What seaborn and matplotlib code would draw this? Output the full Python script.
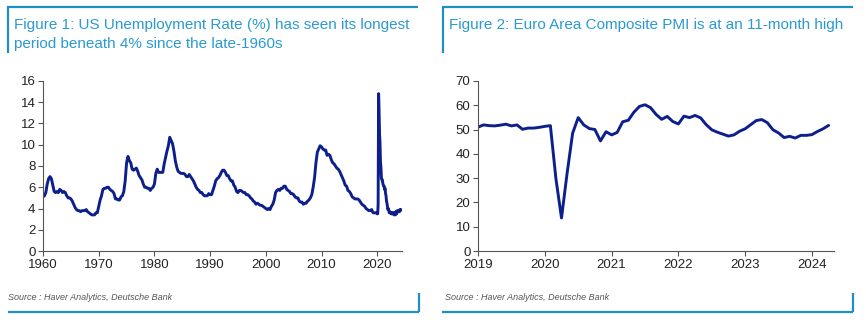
import numpy as np
import pandas as pd
import matplotlib
matplotlib.use("Agg")
import matplotlib.pyplot as plt
from matplotlib.lines import Line2D
import seaborn as sns

# ---------------- Data ----------------
# US unemployment rate (%), quarterly 1960Q1-2019Q4
us_quarterly_1960_2019 = [
    5.1, 5.2, 5.5, 6.3,   6.8, 7.0, 6.8, 6.2,   5.6, 5.5, 5.6, 5.5,   5.8, 5.7, 5.5, 5.6,
    5.5, 5.2, 5.0, 5.0,   4.9, 4.7, 4.4, 4.1,   3.9, 3.8, 3.8, 3.7,   3.8, 3.8, 3.8, 3.9,
    3.7, 3.6, 3.5, 3.4,   3.4, 3.4, 3.6, 3.6,   4.2, 4.8, 5.2, 5.8,   5.9, 5.9, 6.0, 6.0,
    5.8, 5.7, 5.6, 5.4,   4.9, 4.9, 4.8, 4.8,   5.1, 5.2, 5.6, 6.6,   8.3, 8.9, 8.5, 8.3,
    7.7, 7.6, 7.7, 7.8,   7.5, 7.1, 6.9, 6.7,   6.3, 6.0, 6.0, 5.9,   5.9, 5.7, 5.9, 6.0,
    6.3, 7.3, 7.7, 7.4,   7.4, 7.4, 7.4, 8.2,   8.8, 9.4, 9.9, 10.7,  10.4, 10.1, 9.4, 8.5,
    7.9, 7.5, 7.4, 7.3,   7.3, 7.3, 7.2, 7.0,   7.0, 7.2, 7.0, 6.8,   6.6, 6.3, 6.0, 5.8,
    5.7, 5.5, 5.5, 5.3,   5.2, 5.2, 5.2, 5.4,   5.3, 5.3, 5.7, 6.1,   6.6, 6.8, 6.9, 7.1,
    7.4, 7.6, 7.6, 7.4,   7.1, 7.1, 6.8, 6.6,   6.6, 6.2, 6.0, 5.6,   5.5, 5.7, 5.7, 5.6,
    5.5, 5.5, 5.3, 5.3,   5.2, 5.0, 4.9, 4.7,   4.6, 4.4, 4.5, 4.4,   4.3, 4.3, 4.2, 4.1,
    4.0, 3.9, 4.0, 3.9,   4.2, 4.4, 4.8, 5.5,   5.7, 5.8, 5.7, 5.9,   5.9, 6.1, 6.1, 5.8,
    5.7, 5.6, 5.4, 5.4,   5.3, 5.1, 5.0, 5.0,   4.7, 4.6, 4.6, 4.4,   4.5, 4.5, 4.7, 4.8,
    5.0, 5.3, 6.0, 6.9,   8.3, 9.3, 9.6, 9.9,   9.8, 9.6, 9.5, 9.5,   9.0, 9.1, 9.0, 8.6,
    8.3, 8.2, 8.0, 7.8,   7.7, 7.5, 7.2, 6.9,   6.6, 6.2, 6.1, 5.7,   5.6, 5.4, 5.1, 5.0,
    4.9, 4.9, 4.9, 4.8,   4.6, 4.4, 4.3, 4.2,   4.0, 3.9, 3.8, 3.8,   3.9, 3.6, 3.6, 3.6,
]
# US unemployment rate (%), monthly Jan 2020 - Apr 2024
us_monthly_2020_2024 = [
    3.5, 3.5, 4.4, 14.8, 13.2, 11.0, 10.2, 8.4, 7.9, 6.9, 6.7, 6.7,
    6.4, 6.2, 6.1, 6.1, 5.8, 5.9, 5.4, 5.2, 4.7, 4.5, 4.2, 3.9,
    4.0, 3.8, 3.6, 3.7, 3.6, 3.6, 3.5, 3.6, 3.5, 3.6, 3.6, 3.5,
    3.4, 3.6, 3.5, 3.4, 3.7, 3.6, 3.5, 3.8, 3.8, 3.8, 3.7, 3.7,
    3.7, 3.9, 3.8, 3.9,
]

# Euro Area Composite PMI, monthly Jan 2019 - Apr 2024
pmi_values = [
    51.0, 51.9, 51.6, 51.5, 51.8, 52.2, 51.5, 51.9, 50.1, 50.6, 50.6, 50.9,
    51.3, 51.6, 29.7, 13.6, 31.9, 48.5, 54.9, 51.9, 50.4, 50.0, 45.3, 49.1,
    47.8, 48.8, 53.2, 53.8, 57.1, 59.5, 60.2, 59.0, 56.2, 54.2, 55.4, 53.3,
    52.3, 55.5, 54.9, 55.8, 54.8, 52.0, 49.9, 48.9, 48.1, 47.3, 47.8, 49.3,
    50.3, 52.0, 53.7, 54.1, 52.8, 49.9, 48.6, 46.7, 47.2, 46.5, 47.6, 47.6,
    47.9, 49.2, 50.3, 51.7,
]

us_x_ticks = [1960, 1970, 1980, 1990, 2000, 2010, 2020]
us_y_ticks = [0, 2, 4, 6, 8, 10, 12, 14, 16]
pmi_x_ticks = [2019, 2020, 2021, 2022, 2023, 2024]
pmi_y_ticks = [0, 10, 20, 30, 40, 50, 60, 70]

title1 = "Figure 1: US Unemployment Rate (%) has seen its longest\nperiod beneath 4% since the late-1960s"
title2 = "Figure 2: Euro Area Composite PMI is at an 11-month high"
source = "Source : Haver Analytics, Deutsche Bank"


def decimal_year(dates):
    return dates.year + (dates.month - 1) / 12.0


us_dates = pd.date_range("1960-01-01", periods=len(us_quarterly_1960_2019), freq="QS").append(
    pd.date_range("2020-01-01", periods=len(us_monthly_2020_2024), freq="MS"))
us_df = pd.DataFrame({"year": decimal_year(us_dates),
                      "rate": us_quarterly_1960_2019 + us_monthly_2020_2024})
pmi_dates = pd.date_range("2019-01-01", periods=len(pmi_values), freq="MS")
pmi_df = pd.DataFrame({"year": decimal_year(pmi_dates), "pmi": pmi_values})

# ---------------- Style ----------------
sns.set_theme(style="white")
plt.rcParams["font.family"] = ["Liberation Sans", "DejaVu Sans"]

LINE = "#0d1f8c"
ACCENT = "#1f8fc4"
TITLE_C = "#2a9ad0"
TICK_C = "#222222"

fig = plt.figure(figsize=(8.66, 3.29), dpi=100)
ax1 = fig.add_axes([0.0497, 0.237, 0.4145, 0.517])
ax2 = fig.add_axes([0.552, 0.237, 0.411, 0.517])

sns.lineplot(data=us_df, x="year", y="rate", ax=ax1, color=LINE, linewidth=2.1)
sns.lineplot(data=pmi_df, x="year", y="pmi", ax=ax2, color=LINE, linewidth=2.1)

for ax, xt, yt, xl, yl in [
    (ax1, us_x_ticks, us_y_ticks, (1960, 2024.45), (0, 16)),
    (ax2, pmi_x_ticks, pmi_y_ticks, (2019, 2024.33), (0, 70)),
]:
    ax.set_xlim(*xl)
    ax.set_ylim(*yl)
    ax.set_xticks(xt)
    ax.set_yticks(yt)
    ax.set_xlabel("")
    ax.set_ylabel("")
    for s in ["top", "right"]:
        ax.spines[s].set_visible(False)
    for s in ["left", "bottom"]:
        ax.spines[s].set_color("#555555")
        ax.spines[s].set_linewidth(0.8)
    ax.tick_params(axis="both", which="major", direction="out", length=3.5,
                   width=0.8, color="#555555", labelsize=9.5, labelcolor=TICK_C, pad=2)
    ax.tick_params(axis="x", bottom=True)
    ax.tick_params(axis="y", left=True)
    ax.grid(False)

# ---------------- Frames, titles, sources ----------------
def hline(x0, x1, y):
    fig.add_artist(Line2D([x0, x1], [y, y], transform=fig.transFigure,
                          color=ACCENT, linewidth=1.6, solid_capstyle="butt"))


def vline(x, y0, y1):
    fig.add_artist(Line2D([x, x], [y0, y1], transform=fig.transFigure,
                          color=ACCENT, linewidth=1.6, solid_capstyle="butt"))

W, H = 866.0, 329.0
# panel 1
hline(7 / W, 418 / W, 1 - 7 / H)
vline(8 / W, 1 - 7 / H, 1 - 53 / H)
hline(8 / W, 419 / W, 1 - 312 / H)
vline(419 / W, 1 - 293 / H, 1 - 312 / H)
# panel 2
hline(442 / W, 853 / W, 1 - 7 / H)
vline(443 / W, 1 - 7 / H, 1 - 53 / H)
hline(442 / W, 853 / W, 1 - 312 / H)
vline(853 / W, 1 - 293 / H, 1 - 312 / H)

fig.text(14 / W, 1 - 25 / H, title1.split("\n")[0], color=TITLE_C, fontsize=11,
         va="center", ha="left")
fig.text(14 / W, 1 - 44 / H, title1.split("\n")[1], color=TITLE_C, fontsize=11,
         va="center", ha="left")
fig.text(449 / W, 1 - 25 / H, title2, color=TITLE_C, fontsize=11, va="center", ha="left")

fig.text(8 / W, 1 - 297 / H, source, color="#555555", fontsize=6.5, style="italic",
         va="center", ha="left")
fig.text(445 / W, 1 - 297 / H, source, color="#555555", fontsize=6.5, style="italic",
         va="center", ha="left")

fig.savefig("out.png", dpi=100)
